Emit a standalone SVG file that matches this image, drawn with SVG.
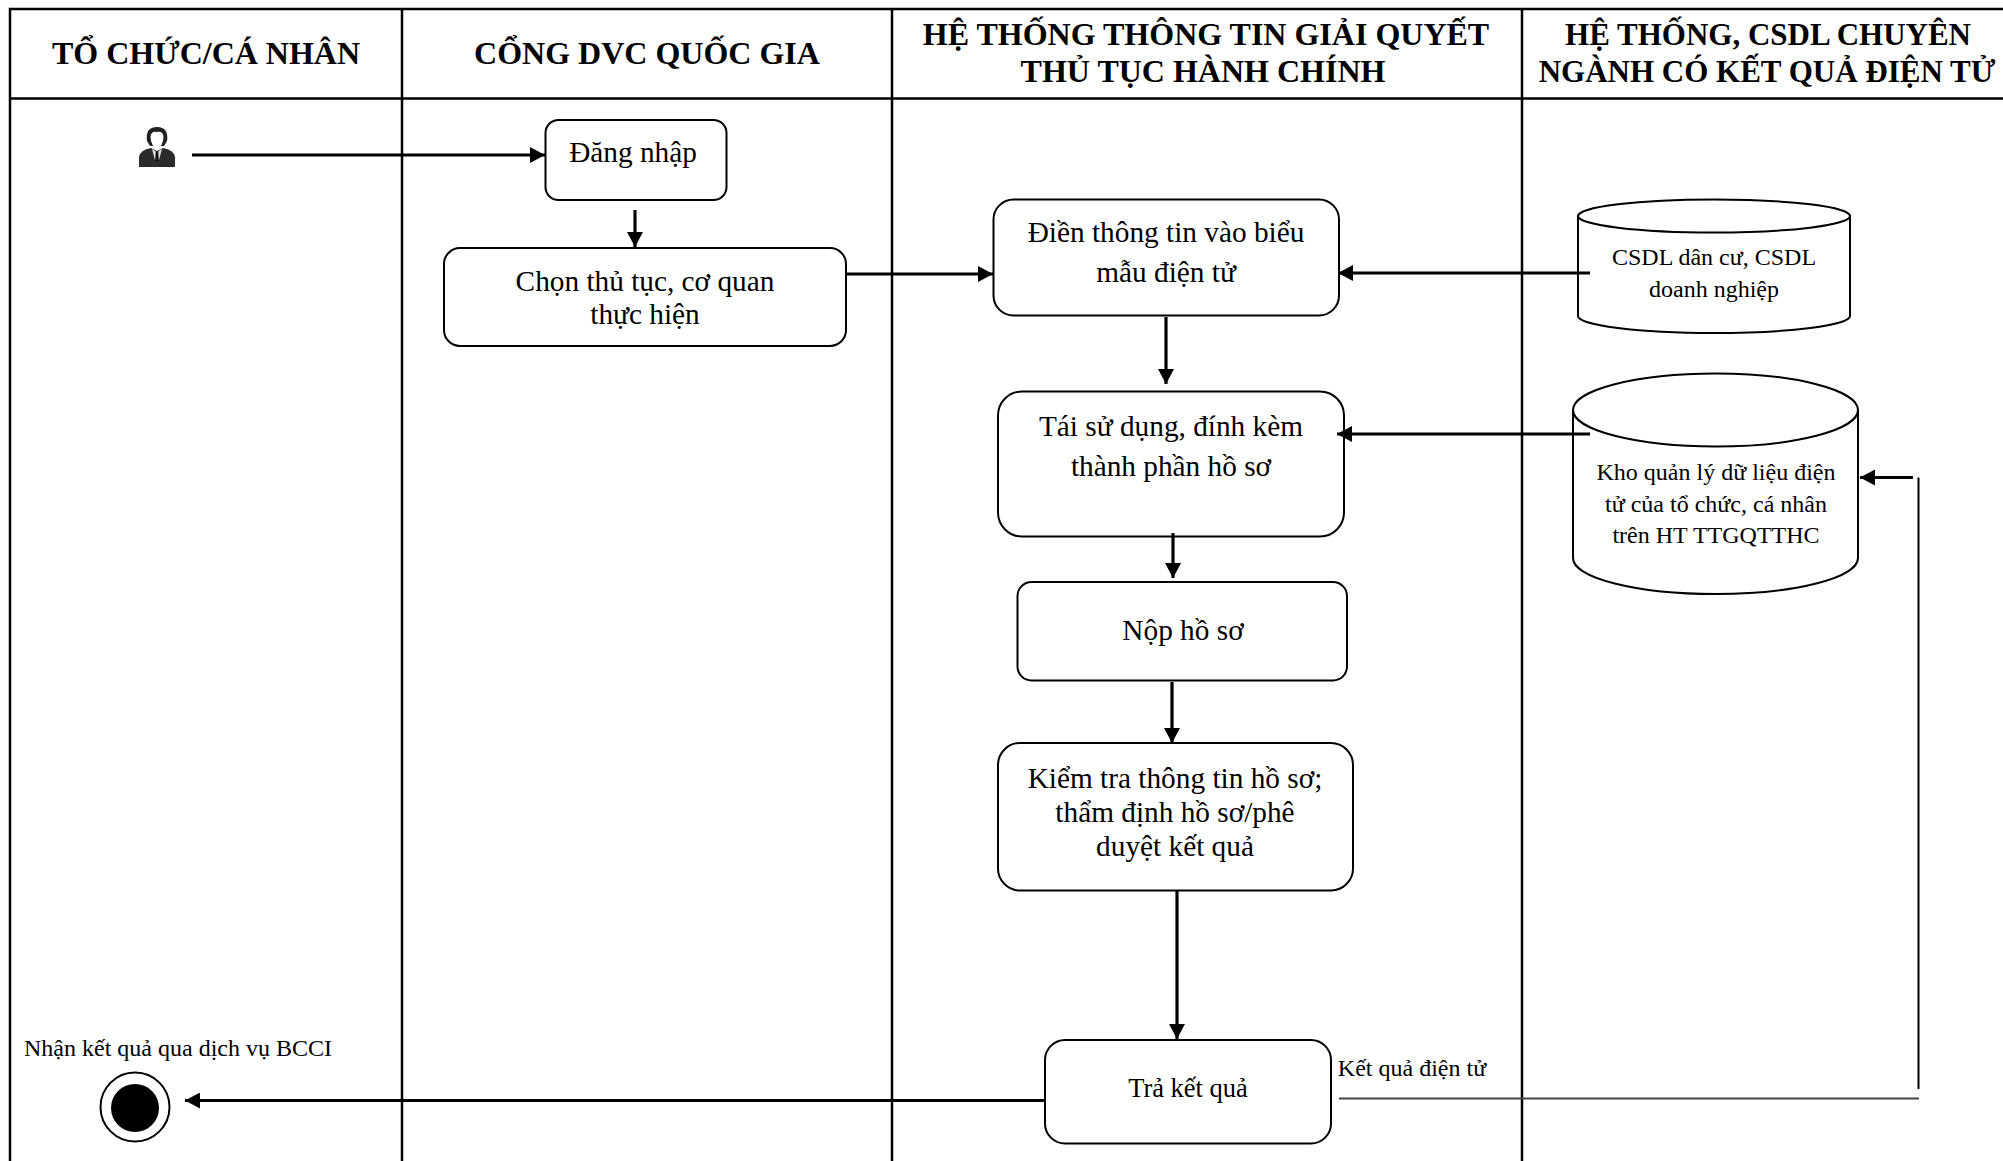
<svg xmlns="http://www.w3.org/2000/svg" width="2003" height="1161" viewBox="0 0 2003 1161">
<style>
text{font-family:"Liberation Serif","Times New Roman",serif;fill:#000;text-anchor:middle}
.h{font-size:32px;font-weight:bold}
.h2{font-size:31px;font-weight:bold}
.n{font-size:29.3px}
.s{font-size:24px}
.box{fill:#fff;stroke:#000;stroke-width:2}
.sw{fill:none;stroke:#000;stroke-width:2.5}
.c{fill:none;stroke:#000;stroke-width:3.2}
.cyl{fill:#fff;stroke:#000;stroke-width:2}
</style>
<defs>
<marker id="a" markerUnits="userSpaceOnUse" markerWidth="16" markerHeight="16" refX="15" refY="8" orient="auto"><path d="M0 0L15 8L0 16Z" fill="#000"/></marker>
</defs>
<rect width="2003" height="1161" fill="#fff"/>
<g id="lanes">
<path class="sw" d="M10 1161V9H2003M10 98.500H2003M402 9V1161M892 9V1161M1522 9V1161"/>
<text class="h" x="206" y="64">TỔ CHỨC/CÁ NHÂN</text>
<text class="h" x="647" y="64">CỔNG DVC QUỐC GIA</text>
<text class="h" x="1206" y="45">HỆ THỐNG THÔNG TIN GIẢI QUYẾT</text>
<text class="h" x="1203" y="82">THỦ TỤC HÀNH CHÍNH</text>
<text class="h2" x="1768" y="45">HỆ THỐNG, CSDL CHUYÊN</text>
<text class="h2" x="1767" y="82">NGÀNH CÓ KẾT QUẢ ĐIỆN TỬ</text>
</g>
<g id="actor">
<path d="M139 167V157Q140 150 151 148L157 151L163 148Q174 150 175 157V167Z" fill="#2b2b2b"/>
<path d="M147 141Q145 127 157 127Q169 127 167 141L164 146H150Z" fill="#222"/>
<path d="M150.500 137Q151 131 157 132Q163 131 163.500 137Q163 146 157 149Q151 146 150.500 137Z" fill="#fff"/>
<path d="M152 149L157 152L162 149L159 160H155Z" fill="#ddd"/>
<path d="M155.800 151H158.200L158.800 161H155.200Z" fill="#111"/>
</g>
<g id="login"><rect class="box" x="545.500" y="120" width="181" height="80" rx="13"/><text class="n" x="633" y="162">Đăng nhập</text></g>
<g id="choose"><rect class="box" x="444" y="248" width="402" height="98" rx="16"/><text class="n" x="645" y="291">Chọn thủ tục, cơ quan</text><text class="n" x="645" y="324">thực hiện</text></g>
<g id="fill"><rect class="box" x="993.500" y="199.500" width="345.500" height="116" rx="20"/><text class="n" x="1166" y="242">Điền thông tin vào biểu</text><text class="n" x="1166" y="282">mẫu điện tử</text></g>
<g id="reuse"><rect class="box" x="998" y="391.500" width="346" height="145" rx="24"/><text class="n" x="1171" y="436">Tái sử dụng, đính kèm</text><text class="n" x="1171" y="476">thành phần hồ sơ</text></g>
<g id="submit"><rect class="box" x="1017.500" y="582" width="329.500" height="98.500" rx="14"/><text class="n" x="1183" y="640">Nộp hồ sơ</text></g>
<g id="check"><rect class="box" x="998" y="743" width="355" height="147.500" rx="22"/><text class="n" x="1175" y="788">Kiểm tra thông tin hồ sơ;</text><text class="n" x="1175" y="822">thẩm định hồ sơ/phê</text><text class="n" x="1175" y="856">duyệt kết quả</text></g>
<g id="result"><rect class="box" x="1045" y="1040" width="286" height="103.500" rx="20"/><text class="s" style="font-size:26.500px" x="1188" y="1097">Trả kết quả</text></g>
<g id="csdl"><path class="cyl" d="M1578 216V316A136 17 0 0 0 1850 316V216Z"/><ellipse class="cyl" cx="1714" cy="216" rx="136" ry="16.500"/><text class="s" x="1714" y="265">CSDL dân cư, CSDL</text><text class="s" x="1714" y="297">doanh nghiệp</text></g>
<g id="store"><path class="cyl" d="M1573 410V558A142.500 36 0 0 0 1858 558V410Z"/><ellipse class="cyl" cx="1715.500" cy="410" rx="142.500" ry="36.500"/><text class="s" x="1716" y="480">Kho quản lý dữ liệu điện</text><text class="s" x="1716" y="512">tử của tổ chức, cá nhân</text><text class="s" x="1716" y="543">trên HT TTGQTTHC</text></g>
<g id="end"><circle cx="135" cy="1107" r="34.500" fill="#fff" stroke="#000" stroke-width="2"/><circle cx="135" cy="1108" r="24" fill="#000"/><text class="s" x="178" y="1056">Nhận kết quả qua dịch vụ BCCI</text></g>
<g id="connectors">
<path class="c" marker-end="url(#a)" d="M192 155H545"/>
<path class="c" marker-end="url(#a)" d="M635 210V247"/>
<path class="c" marker-end="url(#a)" d="M846 274H993"/>
<path class="c" marker-end="url(#a)" d="M1590 273H1338"/>
<path class="c" marker-end="url(#a)" d="M1590 434H1337"/>
<path class="c" marker-end="url(#a)" d="M1166 317V384"/>
<path class="c" marker-end="url(#a)" d="M1173 533V578"/>
<path class="c" marker-end="url(#a)" d="M1172 682V743"/>
<path class="c" marker-end="url(#a)" d="M1177 890V1039"/>
<path class="c" marker-end="url(#a)" d="M1045 1100.500H185"/>
<path fill="none" stroke="#444" stroke-width="2" d="M1339 1098.500H1919"/>
<path fill="none" stroke="#000" stroke-width="2" d="M1918.500 1089V477.500"/>
<path class="c" marker-end="url(#a)" d="M1913 477.500H1860"/>
<text class="s" x="1412" y="1076">Kết quả điện tử</text>
</g>
</svg>
